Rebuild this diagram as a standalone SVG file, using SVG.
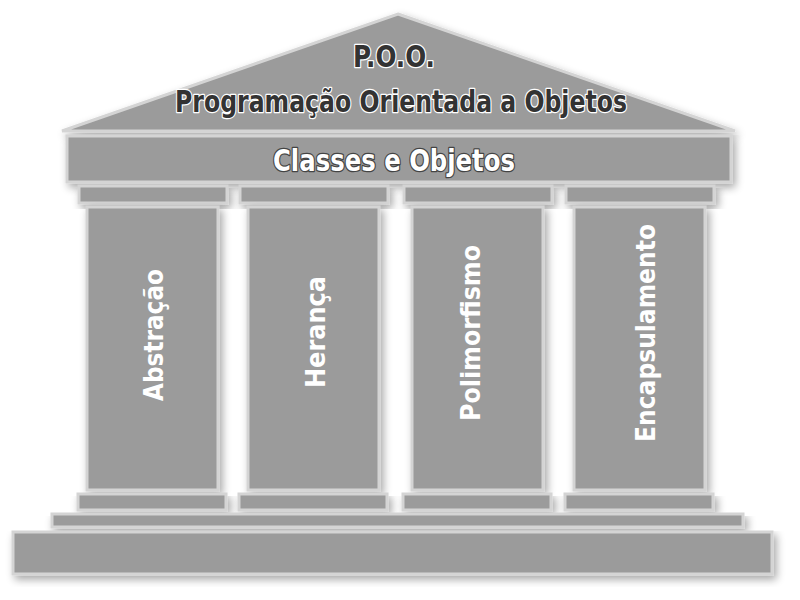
<svg xmlns="http://www.w3.org/2000/svg" width="800" height="600" viewBox="0 0 800 600">
<defs>
<filter id="sh" x="-10%" y="-10%" width="130%" height="140%">
<feGaussianBlur in="SourceAlpha" stdDeviation="4"/>
<feOffset dx="3" dy="4" result="b"/>
<feComponentTransfer><feFuncA type="linear" slope="0.35"/></feComponentTransfer>
<feMerge><feMergeNode/><feMergeNode in="SourceGraphic"/></feMerge>
</filter>
</defs>
<style>
.p{fill:#9b9b9b;stroke:#d4d4d4;stroke-width:3;filter:url(#sh)}
.t{font-family:"Liberation Sans Narrow","DejaVu Sans Condensed","Liberation Sans",sans-serif;font-weight:bold;text-anchor:middle}
.dk{fill:#333;stroke:#fff;stroke-width:2.5;paint-order:stroke;stroke-linejoin:round}
.wt{fill:#fff;stroke:#444;stroke-width:2.5;paint-order:stroke;stroke-linejoin:round}
.col{fill:#fff;font-size:27px}
</style>
<rect width="800" height="600" fill="#fff"/>
<g id="roof">
<polygon class="p" points="398,14 735,131 62,131"/>
<text class="t dk" x="394" y="67" font-size="30" textLength="82" lengthAdjust="spacingAndGlyphs">P.O.O.</text>
<text class="t dk" x="401" y="112" font-size="30" textLength="452" lengthAdjust="spacingAndGlyphs">Programação Orientada a Objetos</text>
</g>
<g id="entablature">
<rect class="p" x="67" y="136" width="664" height="46"/>
<text class="t wt" x="394" y="171" font-size="30" textLength="242" lengthAdjust="spacingAndGlyphs">Classes e Objetos</text>
</g>
<g id="col-abstracao">
<rect class="p" x="79" y="186" width="148" height="17"/>
<rect class="p" x="87" y="207" width="131" height="283"/>
<rect class="p" x="78" y="494" width="148" height="16"/>
<text class="t col" transform="translate(163,335) rotate(-90)" textLength="132" lengthAdjust="spacingAndGlyphs">Abstração</text>
</g>
<g id="col-heranca">
<rect class="p" x="240" y="186" width="148" height="17"/>
<rect class="p" x="248" y="207" width="131" height="283"/>
<rect class="p" x="239" y="494" width="148" height="16"/>
<text class="t col" transform="translate(325,332) rotate(-90)" textLength="112" lengthAdjust="spacingAndGlyphs">Herança</text>
</g>
<g id="col-polimorfismo">
<rect class="p" x="404" y="186" width="148" height="17"/>
<rect class="p" x="412" y="207" width="131" height="283"/>
<rect class="p" x="403" y="494" width="148" height="16"/>
<text class="t col" transform="translate(480,333) rotate(-90)" textLength="176" lengthAdjust="spacingAndGlyphs">Polimorfismo</text>
</g>
<g id="col-encapsulamento">
<rect class="p" x="566" y="186" width="148" height="17"/>
<rect class="p" x="574" y="207" width="131" height="283"/>
<rect class="p" x="565" y="494" width="148" height="16"/>
<text class="t col" transform="translate(655,333) rotate(-90)" textLength="218" lengthAdjust="spacingAndGlyphs">Encapsulamento</text>
</g>
<g id="steps">
<rect class="p" x="52" y="514" width="691" height="13"/>
<rect class="p" x="13" y="532" width="759" height="42"/>
</g>
</svg>
